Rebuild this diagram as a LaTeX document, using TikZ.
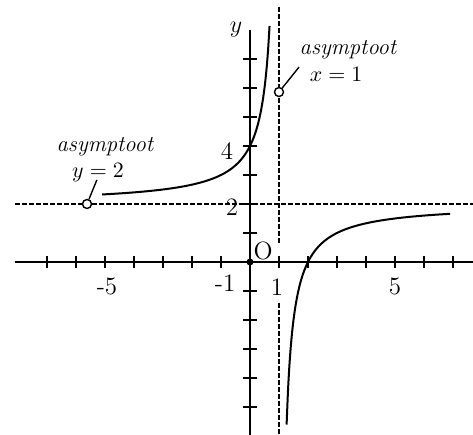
\documentclass[tikz,border=0pt]{standalone}
\begin{document}
\begin{tikzpicture}[x=14.5pt,y=14.5pt,
  axis/.style={line width=1pt},
  asym/.style={line width=0.7pt,dash pattern=on 2.5pt off 1pt},
  curve/.style={line width=1pt},
  tick/.style={line width=0.8pt},
  num/.style={font=\fontsize{12.5}{14}\selectfont,inner sep=0pt},
  lab/.style={font=\fontsize{11.3}{13}\selectfont,inner sep=0pt},
  hole/.style={circle,draw,fill=white,line width=0.7pt,inner sep=0pt,minimum size=4.5pt},
  pointer/.style={line width=0.7pt}]
\useasboundingbox (-8.621,-5.966) rectangle (7.690,9.034);
% asymptotes
\draw[asym] (-8.10,2) -- (7.69,2);
\draw[asym] (1,8.8) -- (1,0.655);
\draw[asym] (1,-1.41) -- (1,-5.966);
% axes
\draw[axis] (-8.10,0) -- (7.69,0);
\draw[axis] (0,-5.966) -- (0,8.0);
% ticks
\foreach \i in {-7,...,-1,1,2,...,7} \draw[tick] (\i,-0.21) -- (\i,0.21);
\foreach \j in {-5,...,-1,1,2,...,7} \draw[tick] (-0.24,\j) -- (0.24,\j);
% curve
\draw[curve,domain=-5.1:0.676,samples=120,smooth] plot (\x,{2-2/(\x-1)});
\draw[curve,domain=1.263:6.9,samples=120,smooth] plot (\x,{2-2/(\x-1)});
% origin dot
\node[circle,fill=black,inner sep=0pt,minimum size=3.5pt] (o) at (0,0) {};
% labels on axes
\node[num] (m5) at (-4.93,-0.86) {-5};
\node[num] (m1) at (-0.86,-0.72) {-1};
\node[num] (p1) at (0.93,-0.86) {1};
\node[num] (p5) at (5.0,-0.86) {5};
\node[num] (t2) at (-0.62,1.9) {2};
\node[num] (t4) at (-0.79,3.83) {4};
\node[num] (oo) at (0.45,0.38) {O};
\node[num] (ylab) at (-0.48,8.0) {$y$};
% asymptote markers
\node[hole] (hl) at (-5.62,2) {};
\node[hole] (hr) at (1,5.86) {};
\coordinate (pl) at (-5.28,2.83);
\coordinate (pr) at (1.69,6.72);
\draw[pointer] (hl) -- (pl);
\draw[pointer] (hr) -- (pr);
\node[lab] (la1) at (-5.0,3.97) {\itshape asymptoot};
\node[lab] (la2) at (-5.24,3.10) {$y=2$};
\node[lab] (ra1) at (3.38,7.31) {\itshape asymptoot};
\node[lab] (ra2) at (2.97,6.45) {$x=1$};
\end{tikzpicture}
\end{document}
